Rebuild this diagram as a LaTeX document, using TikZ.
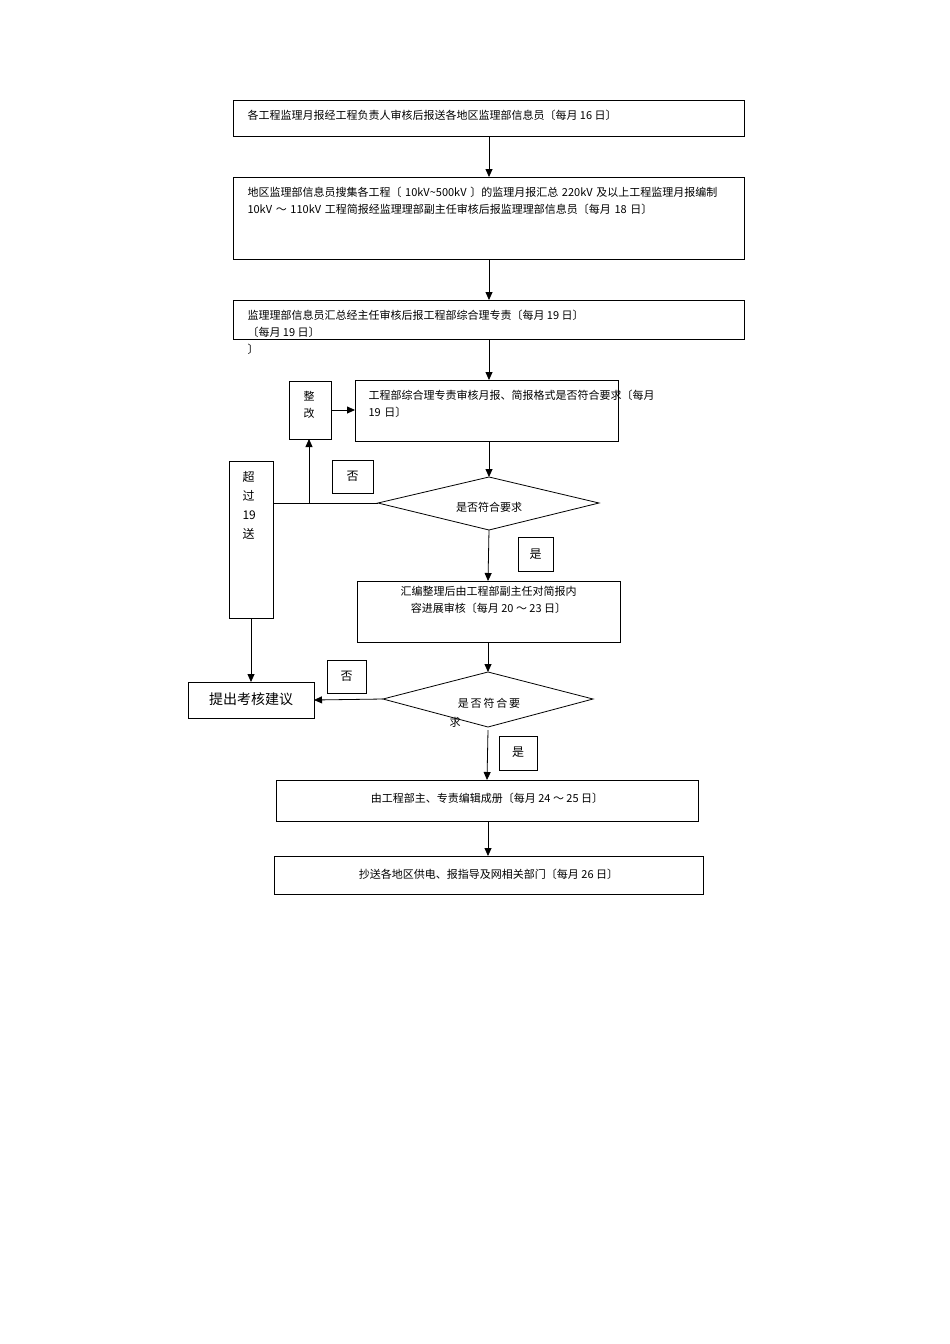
\documentclass[tikz,border=0pt]{standalone}
\usepackage{fontspec}
\newfontfamily\cjk{Noto Sans CJK SC}
\usetikzlibrary{arrows.meta}
\begin{document}
\begin{tikzpicture}[x=1pt,y=-1pt,
  box/.style={draw,line width=0.8pt,inner sep=0pt},
  lbl/.style={font=\cjk\fontsize{11}{17}\selectfont,anchor=north west,align=left},
  arr/.style={-{Triangle[length=8pt,width=7pt]},line width=0.8pt},
  ln/.style={line width=0.8pt}]
\useasboundingbox (0,0) rectangle (950,1344);
% boxes
\draw[box] (233,100) rectangle (744,136);
\node[lbl] (t1) at (244,107) {各工程监理月报经工程负责人审核后报送各地区监理部信息员〔每月 16 日〕};
\draw[box] (233,177) rectangle (744,259);
\node[lbl,text width=490pt] (t2) at (244,184) {地区监理部信息员搜集各工程〔 10kV\textasciitilde500kV 〕的监理月报汇总 220kV 及以上工程监理月报编制 10kV ～ 110kV 工程简报经监理理部副主任审核后报监理理部信息员〔每月 18 日〕};
\draw[box] (233,300) rectangle (744,339);
\node[lbl] (t3) at (244,307) {监理理部信息员汇总经主任审核后报工程部综合理专责〔每月 19 日〕\\〔每月 19 日〕\\〕};
\draw[box] (355,380) rectangle (618,441);
\node[lbl,text width=250pt] (t4) at (365,387) {工程部综合理专责审核月报、简报格式是否符合要求〔每月 19 日〕};
\draw[box] (289,381) rectangle (331,439);
\node[lbl] (zg) at (300,388) {整\\改};
\draw[box] (332,460) rectangle (373,493);
\node[font=\cjk\fontsize{12}{14}\selectfont] (f1) at (352.5,476.5) {否};
\draw[box] (378,503) -- (489,477) -- (599,503) -- (489,530) -- cycle;
\node[font=\cjk\fontsize{11}{14}\selectfont] (d1) at (489,507) {是否符合要求};
\draw[box] (229,461) rectangle (273,618);
\node[lbl,font=\cjk\fontsize{12}{19}\selectfont] (cg) at (239,468) {超\\过\\19\\送};
\draw[box] (518,537) rectangle (553,571);
\node[font=\cjk\fontsize{12}{14}\selectfont] (s1) at (535.5,554) {是};
\draw[box] (357,581) rectangle (620,642);
\node[font=\cjk\fontsize{11}{17}\selectfont,align=center] (t5) at (488.5,600) {汇编整理后由工程部副主任对简报内\\容进展审核〔每月 20 ～ 23 日〕};
\draw[box] (383,699) -- (488,672) -- (593,699) -- (488,727) -- cycle;
\node[font=\cjk\fontsize{11}{14}\selectfont] (d2) at (489,703) {是\,否\,符\,合\,要};
\node[font=\cjk\fontsize{11}{14}\selectfont] (d2b) at (455,722) {求};
\draw[box] (327,660) rectangle (366,693);
\node[font=\cjk\fontsize{12}{14}\selectfont] (f2) at (346.5,676.5) {否};
\draw[box] (188,682) rectangle (314,718);
\node[font=\cjk\fontsize{14}{16}\selectfont] (tc) at (251,699) {提出考核建议};
\draw[box] (499,736) rectangle (537,770);
\node[font=\cjk\fontsize{12}{14}\selectfont] (s2) at (518,752) {是};
\draw[box] (276,780) rectangle (698,821);
\node[font=\cjk\fontsize{11}{14}\selectfont] (t6) at (487,798) {由工程部主、专责编辑成册〔每月 24 ～ 25 日〕};
\draw[box] (274,856) rectangle (703,894);
\node[font=\cjk\fontsize{11}{14}\selectfont] (t7) at (488.5,874) {抄送各地区供电、报指导及网相关部门〔每月 26 日〕};
% connectors
\coordinate (a1) at (489,136); \coordinate (b1) at (489,177);
\draw[arr] (a1) -- (b1);
\coordinate (a2) at (489,259); \coordinate (b2) at (489,300);
\draw[arr] (a2) -- (b2);
\coordinate (a3) at (489,339); \coordinate (b3) at (489,380);
\draw[arr] (a3) -- (b3);
\coordinate (a4) at (489,441); \coordinate (b4) at (489,477);
\draw[arr] (a4) -- (b4);
\coordinate (zr) at (331,410); \coordinate (zl) at (355,410);
\draw[arr] (zr) -- (zl);
\coordinate (dl) at (378,503); \coordinate (cr) at (273,503); \coordinate (j) at (309,503); \coordinate (zb) at (309,439);
\draw[ln] (dl) -- (cr);
\draw[arr] (j) -- (zb);
\coordinate (a5) at (489,530); \coordinate (b5) at (488,581);
\draw[arr] (a5) -- (b5);
\coordinate (a6) at (488,642); \coordinate (b6) at (488,672);
\draw[arr] (a6) -- (b6);
\coordinate (d2l) at (383,699); \coordinate (tcr) at (314,700);
\draw[arr] (d2l) -- (tcr);
\coordinate (cb) at (251,618); \coordinate (tct) at (251,682);
\draw[arr] (cb) -- (tct);
\coordinate (a7) at (488,730); \coordinate (b7) at (487,780);
\draw[arr] (a7) -- (b7);
\coordinate (a8) at (488,821); \coordinate (b8) at (488,856);
\draw[arr] (a8) -- (b8);
\end{tikzpicture}
\end{document}
